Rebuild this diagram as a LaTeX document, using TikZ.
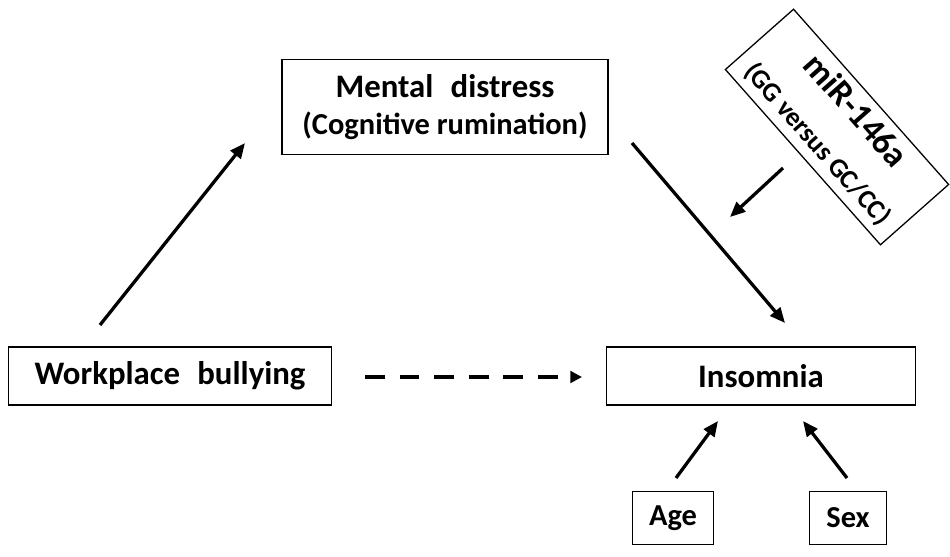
\documentclass[tikz,border=0pt]{standalone}
\usepackage{fontspec}
\setmainfont{Carlito}
\usetikzlibrary{arrows.meta}

\tikzset{
  varbox/.style={draw,rectangle,line width=1.1pt,align=center,inner sep=0pt,
    font=\bfseries\fontsize{28}{32}\selectfont},
  effect/.style={line width=2.8pt,-{Triangle[length=13pt,width=11pt]}},
  direct/.style={line width=3pt,dash pattern=on 17pt off 12.5pt,
    -{Triangle[length=10pt,width=10pt]}}
}

\begin{document}
\begin{tikzpicture}[x=0.03cm,y=-0.03cm]
\useasboundingbox (0,0) rectangle (950,556);

\node [varbox,minimum width=9.78cm,minimum height=2.85cm] (md) at(445,107)
  {Mental \hspace{.3em}distress\\{\fontsize{26}{30}\selectfont(Cognitive rumination)}};
\node [varbox,minimum width=9.69cm,minimum height=1.74cm] (wb) at(170,376){Workplace \hspace{.3em}bullying};
\node [varbox,minimum width=9.27cm,minimum height=1.74cm] (ins) at(761,376){Insomnia};
\node [varbox,minimum width=2.43cm,minimum height=1.59cm,font=\bfseries\fontsize{26}{30}\selectfont] (age) at(673,518){Age};
\node [varbox,minimum width=2.31cm,minimum height=1.59cm,font=\bfseries\fontsize{26}{30}\selectfont] (sex) at(848,518){Sex};
\node [varbox,rotate=-48.5,minimum width=7.02cm,minimum height=2.73cm] (mir) at(837,127)
  {{\fontsize{30}{32}\selectfont miR-146a}\\[9pt]{\fontsize{23}{25}\selectfont(GG versus GC/CC)}};

%arrow ends
\coordinate (wb out) at(100,325);
\coordinate (md in) at(245,143);
\coordinate (md out) at(632,143);
\coordinate (ins top) at(785,323);
\coordinate (mir out) at(783,168);
\coordinate (mod) at(730,217);
\coordinate (wb right) at(365,377);
\coordinate (ins left) at(582,377);
\coordinate (age out) at(676,478);
\coordinate (sex out) at(847,478);
\coordinate (ins age) at(718,421);
\coordinate (ins sex) at(803,421);

\draw[effect](wb out) -- (md in);
\draw[effect](md out) -- (ins top);
\draw[effect](mir out) -- (mod);
\draw[direct](wb right) -- (ins left);
\draw[effect](age out) -- (ins age);
\draw[effect](sex out) -- (ins sex);

\end{tikzpicture}
\end{document}
